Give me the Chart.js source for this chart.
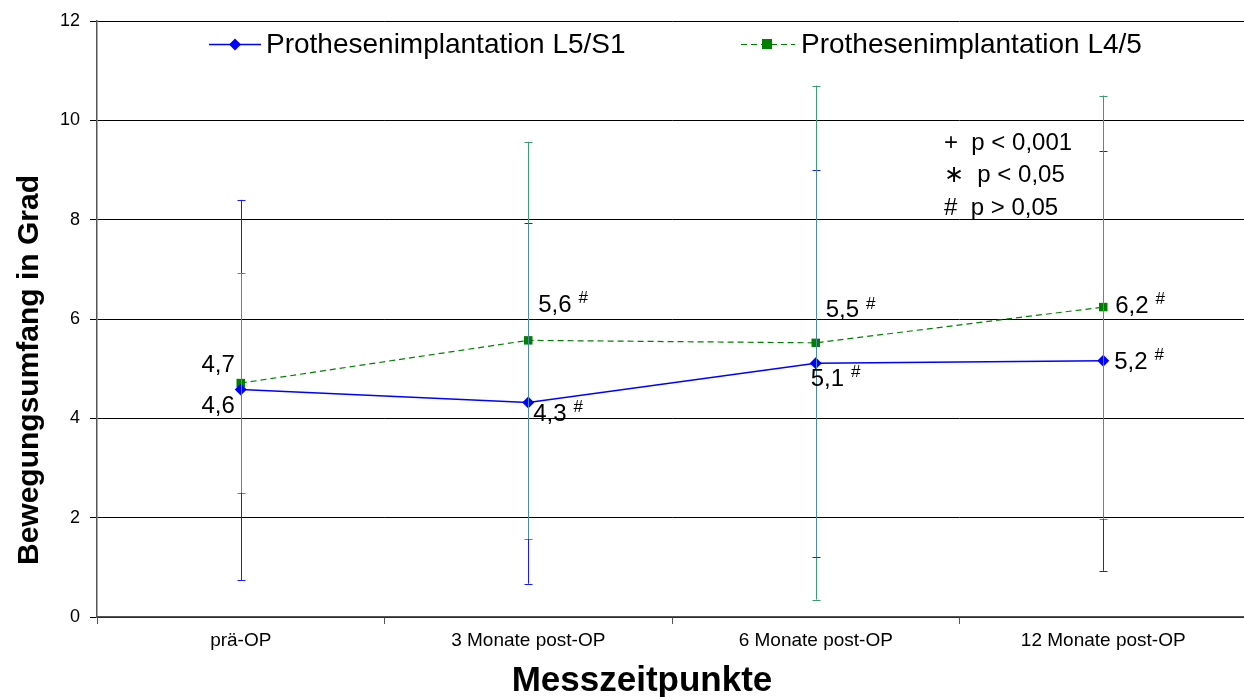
<!DOCTYPE html>
<html>
<head>
<meta charset="utf-8">
<script src="https://cdn.jsdelivr.net/npm/chart.js@4.4.1/dist/chart.umd.min.js"></script>
<style>
  html, body { margin: 0; padding: 0; background: #fff; overflow: hidden; }
  #wrap { width: 1253px; height: 697px; }
</style>
</head>
<body>
<div id="wrap"><canvas id="chart"></canvas></div>
<script>
const categories = ['prä-OP', '3 Monate post-OP', '6 Monate post-OP', '12 Monate post-OP'];

const l5s1Mean = [4.58, 4.32, 5.11, 5.16];
const l5s1Low = [0.74, 0.67, 1.2, 0.93];
const l5s1High = [8.4, 7.93, 9.0, 9.38];
const l5s1Labels = ['4,6', '4,3', '5,1', '5,2'];
const l5s1Marks = ['', '#', '#', '#'];

const l45Mean = [4.71, 5.57, 5.52, 6.24];
const l45Low = [2.5, 1.57, 0.35, 1.97];
const l45High = [6.93, 9.57, 10.7, 10.5];
const l45Labels = ['4,7', '5,6', '5,5', '6,2'];
const l45Marks = ['', '#', '#', '#'];

const yTicks = [0, 2, 4, 6, 8, 10, 12];
const pLegend = ['+  p < 0,001', '\u2217  p < 0,05', '#  p > 0,05'];

const BLUE = '#0000ff';
const GREEN = '#008000';
const FONT = 'Liberation Sans, Arial, sans-serif';

// error bars, drawn from the arrays through the chart's scales
const errorBars = {
  id: 'errorBars',
  afterDatasetsDraw(chart) {
    const ctx = chart.ctx, x = chart.scales.x, y = chart.scales.y;
    const bars = [
      { lo: l45Low, hi: l45High, color: '#3c9c74' },
      { lo: l5s1Low, hi: l5s1High, color: '#1a1aff' }
    ];
    ctx.save();
    ctx.lineWidth = 1;
    categories.forEach((c, i) => {
      const px = Math.round(x.getPixelForValue(i)) + 0.5;
      bars.forEach(b => {
        const top = y.getPixelForValue(b.hi[i]), bot = y.getPixelForValue(b.lo[i]);
        ctx.strokeStyle = b.color;
        ctx.beginPath();
        ctx.moveTo(px, top); ctx.lineTo(px, bot);
        ctx.moveTo(px - 4, Math.round(top) + 0.5); ctx.lineTo(px + 4, Math.round(top) + 0.5);
        ctx.moveTo(px - 4, Math.round(bot) + 0.5); ctx.lineTo(px + 4, Math.round(bot) + 0.5);
        ctx.stroke();
      });
      // overlapping part of both bars
      const oTop = y.getPixelForValue(Math.min(l45High[i], l5s1High[i]));
      const oBot = y.getPixelForValue(Math.max(l45Low[i], l5s1Low[i]));
      ctx.strokeStyle = '#4f8aa8';
      ctx.beginPath();
      ctx.moveTo(px, oTop); ctx.lineTo(px, oBot);
      ctx.stroke();
    });
    ctx.restore();
  }
};

// value labels, p-value key, legend and axis titles
const annotations = {
  id: 'annotations',
  afterDraw(chart) {
    const ctx = chart.ctx;
    ctx.save();
    ctx.fillStyle = '#000';
    ctx.textBaseline = 'middle';

    const drawLabel = (meta, i, text, mark, dx, dy, right) => {
      const p = meta.data[i];
      ctx.font = '24px ' + FONT;
      ctx.textAlign = right ? 'right' : 'left';
      const tx = p.x + dx, ty = p.y + dy;
      ctx.fillText(text, tx, ty);
      if (mark) {
        const w = ctx.measureText(text).width;
        ctx.font = '17px ' + FONT;
        ctx.textAlign = 'left';
        ctx.fillText(mark, tx + w + 7, ty - 7);
      }
    };
    const mBlue = chart.getDatasetMeta(0), mGreen = chart.getDatasetMeta(1);
    const blueOff = [[-6, 17, true], [5, 12], [-5, 16], [11, 2]];
    const greenOff = [[-6, -18, true], [10, -35], [10, -32], [12, -1]];
    categories.forEach((c, i) => {
      drawLabel(mBlue, i, l5s1Labels[i], l5s1Marks[i], blueOff[i][0], blueOff[i][1], blueOff[i][2]);
      drawLabel(mGreen, i, l45Labels[i], l45Marks[i], greenOff[i][0], greenOff[i][1], greenOff[i][2]);
    });

    ctx.font = '24px ' + FONT;
    ctx.textAlign = 'left';
    pLegend.forEach((t, i) => ctx.fillText(t, 944, 143 + i * 32.5));

    // legend
    ctx.font = '28px ' + FONT;
    ctx.lineWidth = 1.5;
    ctx.strokeStyle = BLUE;
    ctx.beginPath(); ctx.moveTo(209, 44.5); ctx.lineTo(261, 44.5); ctx.stroke();
    ctx.fillStyle = BLUE;
    ctx.beginPath(); ctx.moveTo(235, 38.5); ctx.lineTo(241, 44.5); ctx.lineTo(235, 50.5); ctx.lineTo(229, 44.5); ctx.closePath(); ctx.fill();
    ctx.fillStyle = '#000';
    ctx.fillText('Prothesenimplantation L5/S1', 266, 45);

    ctx.strokeStyle = GREEN;
    ctx.lineWidth = 1.2;
    ctx.setLineDash([6, 4]);
    ctx.beginPath(); ctx.moveTo(741, 44.5); ctx.lineTo(795, 44.5); ctx.stroke();
    ctx.setLineDash([]);
    ctx.fillStyle = GREEN;
    ctx.fillRect(762, 39, 10, 10);
    ctx.fillStyle = '#000';
    ctx.fillText('Prothesenimplantation L4/5', 801, 45);

    // axis titles
    ctx.font = 'bold 35px ' + FONT;
    ctx.textAlign = 'center';
    ctx.fillText('Messzeitpunkte', 642, 681);
    ctx.translate(30, 370);
    ctx.rotate(-Math.PI / 2);
    ctx.font = 'bold 30px ' + FONT;
    ctx.fillText('Bewegungsumfang in Grad', 0, 0);
    ctx.restore();
  }
};

new Chart(document.getElementById('chart'), {
  type: 'line',
  data: {
    labels: categories,
    datasets: [
      {
        label: 'Prothesenimplantation L5/S1',
        data: l5s1Mean,
        borderColor: BLUE,
        backgroundColor: BLUE,
        borderWidth: 1.5,
        pointStyle: 'rectRot',
        pointRadius: 6,
        pointBorderWidth: 0,
        tension: 0
      },
      {
        label: 'Prothesenimplantation L4/5',
        data: l45Mean,
        borderColor: GREEN,
        backgroundColor: GREEN,
        borderWidth: 1.2,
        borderDash: [6, 4],
        pointStyle: 'rect',
        pointRadius: 6,
        pointBorderWidth: 0,
        tension: 0
      }
    ]
  },
  options: {
    responsive: true,
    maintainAspectRatio: false,
    animation: { duration: 0 },
    layout: { padding: { top: 21, left: 0, right: 0, bottom: 0 } },
    scales: {
      x: {
        offset: true,
        afterFit: s => { s.height = 80; },
        border: { color: '#555', width: 1.5 },
        grid: { offset: true, drawOnChartArea: false, tickLength: 7, color: '#555' },
        ticks: { color: '#000', font: { family: 'Liberation Sans Narrow, Arial Narrow, ' + FONT, size: 19 }, padding: 5 },
        title: { display: false }
      },
      y: {
        min: 0,
        max: 12,
        afterFit: s => { s.width = 97; },
        afterBuildTicks: s => { s.ticks = yTicks.map(v => ({ value: v })); },
        border: { color: '#555', width: 1.5 },
        grid: { color: '#000', lineWidth: 1, tickLength: 7 },
        ticks: { color: '#000', font: { family: FONT, size: 18 }, padding: 10 },
        title: { display: false }
      }
    },
    plugins: {
      legend: { display: false },
      tooltip: { enabled: false }
    }
  },
  plugins: [errorBars, annotations]
});
</script>
</body>
</html>
